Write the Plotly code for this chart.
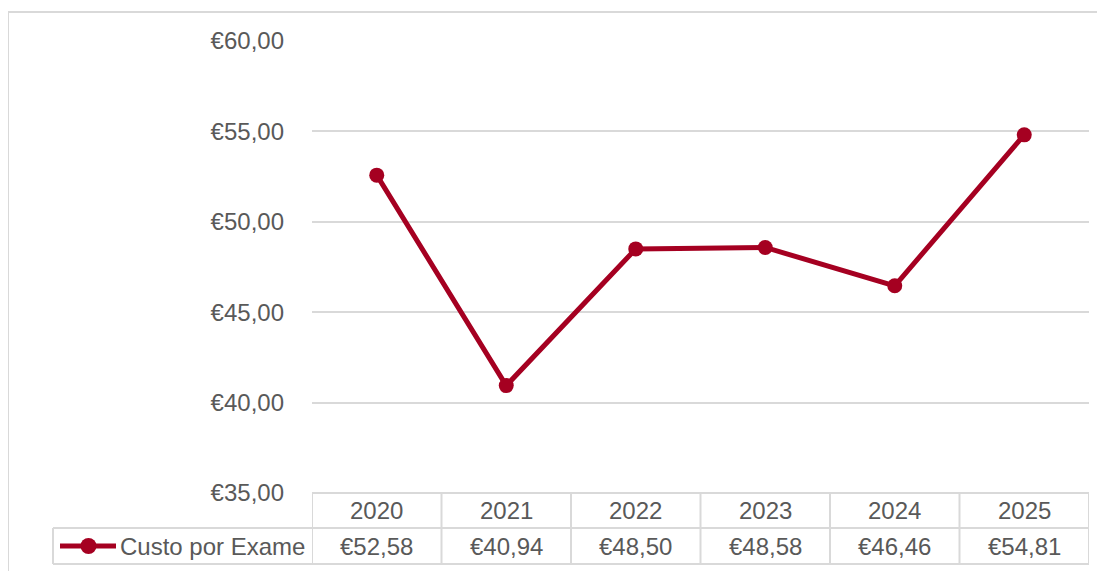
import plotly.graph_objects as go

years = ["2020", "2021", "2022", "2023", "2024", "2025"]
custo = [52.58, 40.94, 48.50, 48.58, 46.46, 54.81]
series_name = "Custo por Exame"
y_ticks = [35, 40, 45, 50, 55, 60]

LINE = "#A50021"
TXT = "#595959"
GRID = "#D9D9D9"
FONT = "Liberation Sans, Arial, sans-serif"
FS = 24

OFF = 8  # page body margin
W, H = 1105 - OFF, 571 - OFF
PL, PR, PT, PB = 312 - OFF, 1089 - OFF, 41 - OFF, 493 - OFF
PW, PH = PR - PL, PB - PT

def px(x):
    return (x - OFF - PL) / PW

def py(y):
    return (PB - (y - OFF)) / PH

def fmt(v):
    return "€" + f"{v:.2f}".replace(".", ",")

fig = go.Figure()
fig.add_trace(go.Scatter(
    x=list(range(len(years))), y=custo, mode="lines+markers",
    line=dict(color=LINE, width=5), marker=dict(color=LINE, size=15),
    name=series_name, showlegend=False, hoverinfo="skip", cliponaxis=False,
))

shapes = []
# outer chart border
shapes.append(dict(type="rect", xref="paper", yref="paper", x0=px(8), x1=px(1120),
                   y0=py(590), y1=py(12), line=dict(color=GRID, width=2), layer="below"))
# table horizontal lines
row_top, row_mid, row_bot = 493, 528, 564
n = len(years)
shapes.append(dict(type="line", xref="x", yref="paper", x0=-0.5, x1=n - 0.5,
                   y0=py(row_top), y1=py(row_top), line=dict(color=GRID, width=2)))
shapes.append(dict(type="line", xref="paper", yref="paper", x0=px(53), x1=1,
                   y0=py(row_mid), y1=py(row_mid), line=dict(color=GRID, width=2)))
shapes.append(dict(type="line", xref="paper", yref="paper", x0=px(53), x1=1,
                   y0=py(row_bot), y1=py(row_bot), line=dict(color=GRID, width=2)))
# table vertical lines
for i in range(n + 1):
    shapes.append(dict(type="line", xref="x", yref="paper", x0=i - 0.5, x1=i - 0.5,
                       y0=py(row_top), y1=py(row_bot), line=dict(color=GRID, width=2)))
shapes.append(dict(type="line", xref="paper", yref="paper", x0=px(53), x1=px(53),
                   y0=py(row_mid), y1=py(row_bot), line=dict(color=GRID, width=2)))
# legend key
ky = (row_mid + row_bot) / 2
shapes.append(dict(type="line", xref="paper", yref="paper", x0=px(60), x1=px(116),
                   y0=py(ky), y1=py(ky), line=dict(color=LINE, width=5)))
shapes.append(dict(type="circle", xref="paper", yref="paper", x0=px(80.5), x1=px(96.5),
                   y0=py(ky + 8), y1=py(ky - 8), fillcolor=LINE, line=dict(color=LINE, width=0)))

annotations = []
for i, (yr, v) in enumerate(zip(years, custo)):
    annotations.append(dict(x=i, y=py((row_top + row_mid) / 2), xref="x", yref="paper",
                            text=yr, showarrow=False, font=dict(size=FS, color=TXT, family=FONT),
                            xanchor="center", yanchor="middle"))
    annotations.append(dict(x=i, y=py(ky), xref="x", yref="paper",
                            text=fmt(v), showarrow=False, font=dict(size=FS, color=TXT, family=FONT),
                            xanchor="center", yanchor="middle"))
annotations.append(dict(x=px(118), y=py(ky), xref="paper", yref="paper", text=series_name,
                        showarrow=False, font=dict(size=FS, color=TXT, family=FONT),
                        xanchor="left", yanchor="middle"))

fig.update_layout(
    width=W, height=H, margin=dict(l=PL, r=W - PR, t=PT, b=H - PB, pad=0),
    paper_bgcolor="white", plot_bgcolor="white",
    font=dict(family=FONT, size=FS, color=TXT),
    shapes=shapes, annotations=annotations, showlegend=False,
    xaxis=dict(range=[-0.5, n - 0.5], showticklabels=False, showgrid=False, zeroline=False,
               showline=False, ticks=""),
    yaxis=dict(range=[35, 60], tickvals=y_ticks, ticktext=[fmt(t) for t in y_ticks],
               showgrid=True, gridcolor=GRID, gridwidth=2, zeroline=False, showline=False,
               ticks="", ticklabelstandoff=27, tickfont=dict(size=FS, color=TXT, family=FONT)),
)

fig.write_html("out.html")
